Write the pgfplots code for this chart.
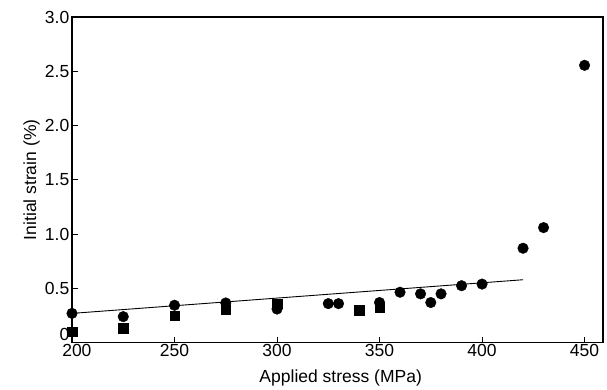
\documentclass[border=0pt]{standalone}
\usepackage{pgfplots}
\pgfplotsset{compat=1.18}
\usepackage{fontspec}
\setmainfont{Liberation Sans}
\begin{document}
\begin{tikzpicture}
\begin{axis}[
  scale only axis, width=531pt, height=325.7pt,
  xmin=200, xmax=459, ymin=0, ymax=3,
  xtick={200,250,300,350,400,450},
  xticklabels={\hphantom{0}200,250,300,350,400,450},
  ytick={0,0.5,1,1.5,2,2.5,3},
  yticklabels={\raisebox{2.5pt}[0pt][0pt]{0},0.5,1.0,1.5,2.0,2.5,3.0},
  xtick pos=bottom, ytick pos=left,
  tick align=inside, major tick length=6pt,
  tick style={line width=0.9pt, black},
  axis line style={line width=1.2pt},
  clip=false,
  /pgf/number format/assume math mode=true,
  font=\fontsize{17.5}{20}\selectfont,
  ticklabel style={font=\fontsize{17.5}{20}\selectfont},
  xticklabel style={inner sep=1pt},
  yticklabel style={inner sep=2.5pt},
  xlabel={Applied stress (MPa)},
  ylabel={Initial strain (\%)},
  xlabel style={at={(axis description cs:0.506,-0.1228)}, anchor=base},
  ylabel style={at={(axis description cs:-0.0678,0.5)}, anchor=base},
]
\addplot[black, line width=0.9pt, no marks] coordinates {(200,0.27) (420,0.58)};
\addplot[only marks, mark=*, mark size=5.3pt, black] coordinates {
(200,0.27) (225,0.24) (250,0.345) (275,0.366) (300,0.31) (325,0.36) (330,0.36)
(350,0.37) (360,0.465) (370,0.45) (375,0.37) (380,0.45) (390,0.525) (400,0.54)
(420,0.87) (430,1.06) (450,2.555)};
\addplot[only marks, mark=square*, mark size=4.7pt, black] coordinates {
(200,0.10) (225,0.135) (250,0.25) (275,0.305) (300,0.357) (340,0.30) (350,0.32)};
\path (axis description cs:-0.1356,-0.1422) rectangle (axis description cs:1.00753,1.0522);
\end{axis}
\end{tikzpicture}
\end{document}
